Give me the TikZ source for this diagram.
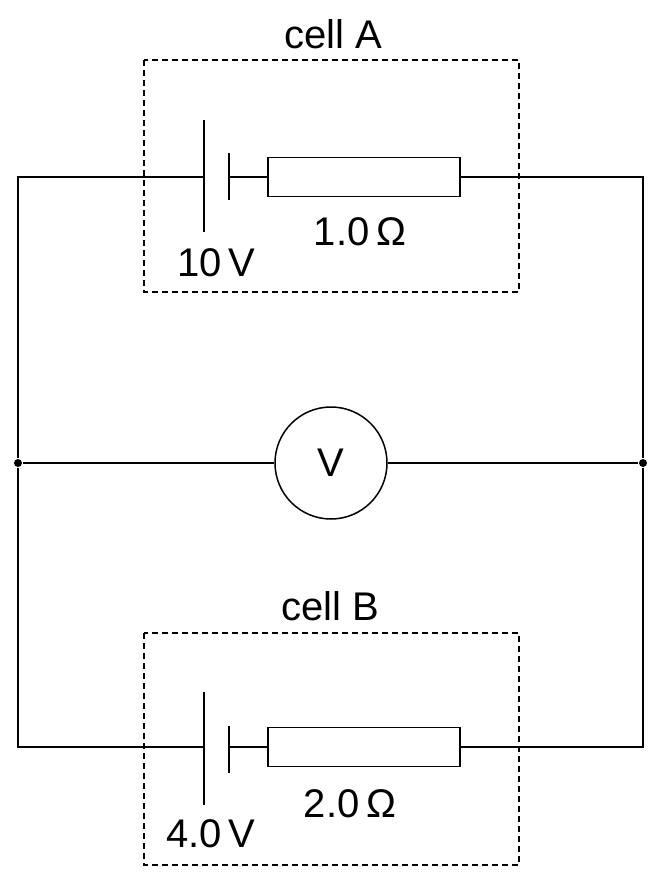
\documentclass[tikz,border=0pt]{standalone}
\usepackage{fontspec}
\setmainfont{Liberation Sans}
\begin{document}
\begin{tikzpicture}[x=1pt,y=-1pt,line width=1.5pt,
  lbl/.style={font=\fontsize{40}{48}\selectfont,inner sep=0},
  box/.style={dashed,line width=1.3pt,dash pattern=on 6pt off 4pt},
  res/.style={draw,fill=white,minimum width=192pt,minimum height=39pt,inner sep=0,line width=1.5pt},
  dot/.style={circle,fill,inner sep=0,minimum size=8pt}]
\useasboundingbox (0,0) rectangle (662,878);
\coordinate (TL) at (18,177); \coordinate (TR) at (643,177);
\coordinate (BL) at (18,747); \coordinate (BR) at (643,747);
\node[dot] (ML) at (18,463) {}; \node[dot] (MR) at (643,463) {};
\node[draw,circle,minimum size=112pt,inner sep=0,lbl] (V) at (331,463) {V};
\draw (ML) -- (V) -- (MR);
% cell A
\draw (ML) -- (TL) -- (204,177);
\draw (229,177) -- (268,177);
\node[res] (RA) at (364,177) {};
\draw (RA) -- (TR) -- (MR);
\draw (204,120) -- (204,232);
\draw (229,153) -- (229,200);
\draw[box] (144,60) rectangle (519,292);
\node[lbl] (lA) at (333,34) {cell A};
\node[lbl] (vA) at (216,263) {10\,V};
\node[lbl] (rA) at (360,232) {1.0\,Ω};
% cell B
\draw (ML) -- (BL) -- (204,747);
\draw (229,747) -- (268,747);
\node[res] (RB) at (364,747) {};
\draw (RB) -- (BR) -- (MR);
\draw (204,692) -- (204,805);
\draw (229,726) -- (229,773);
\draw[box] (144,633) rectangle (519,865);
\node[lbl] (lB) at (330,606) {cell B};
\node[lbl] (vB) at (211,834) {4.0\,V};
\node[lbl] (rB) at (350,804) {2.0\,Ω};
\end{tikzpicture}
\end{document}
